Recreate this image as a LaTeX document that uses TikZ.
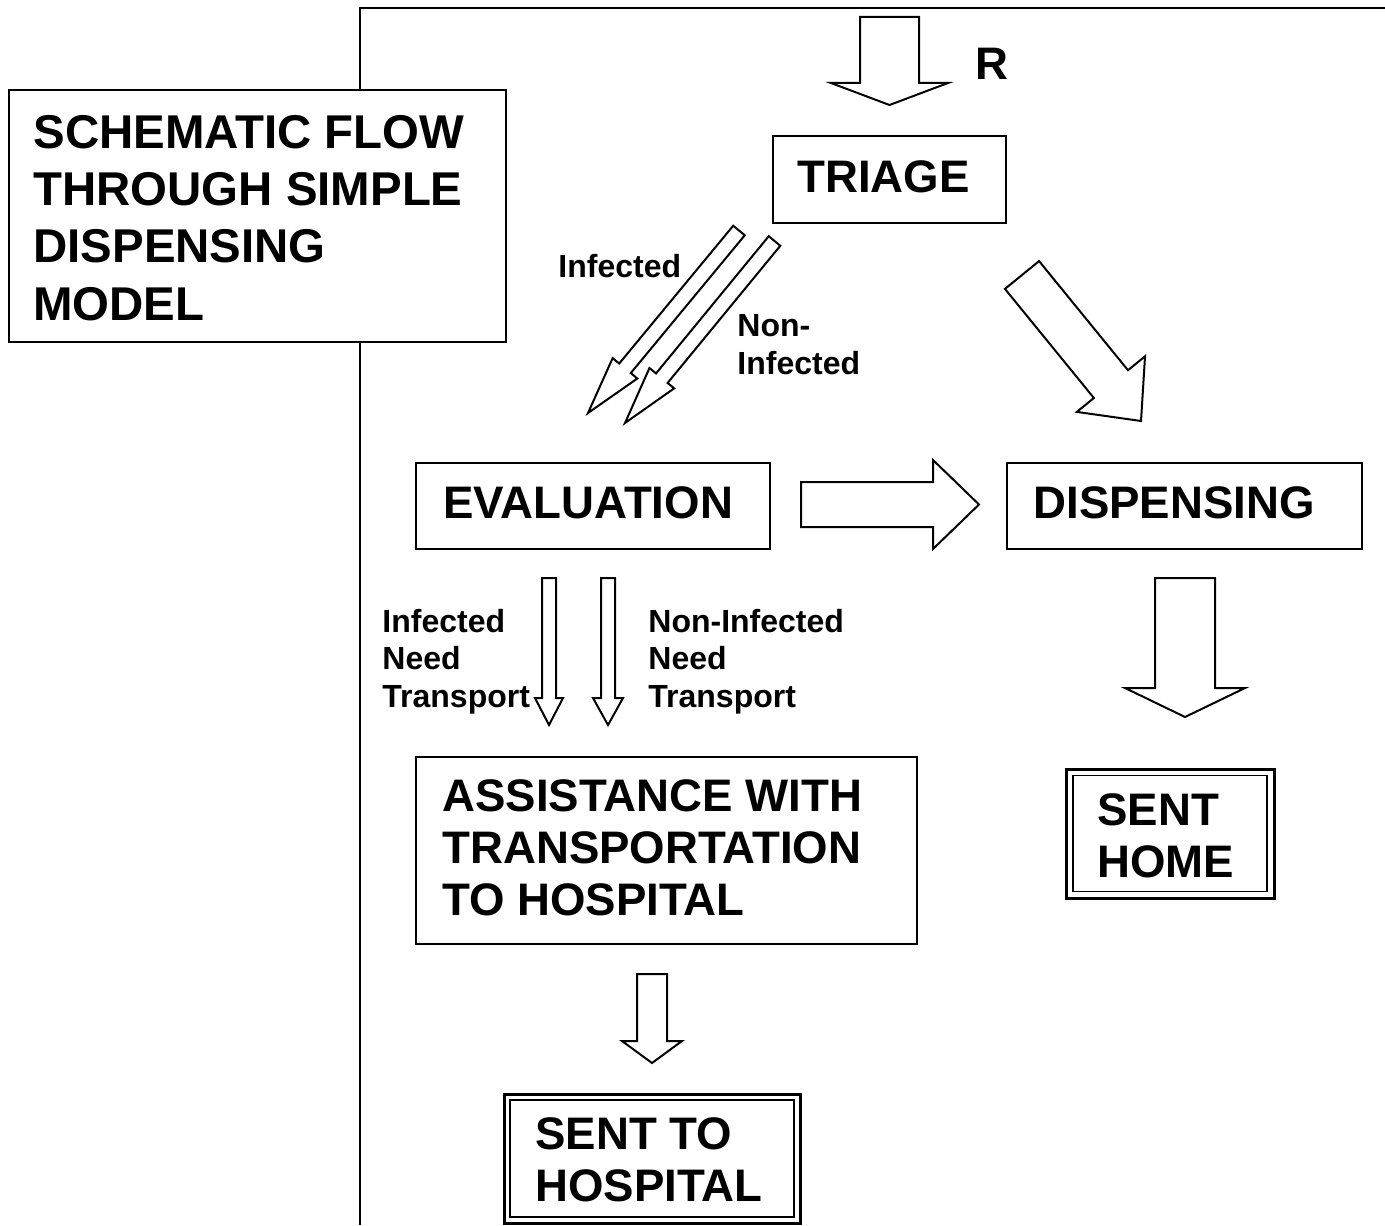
\documentclass[tikz,border=0pt]{standalone}
\usepackage{fontspec}
\setmainfont{Liberation Sans}
\usetikzlibrary{calc}
\tikzset{
  frameline/.style={line width=1pt},
  box/.style={draw, line width=1pt, fill=white, inner sep=0pt, anchor=north west},
  outerbox/.style={draw, line width=1.5pt, fill=white, inner sep=0pt, anchor=north west},
  innerbox/.style={draw, line width=0.9pt, inner sep=0pt, anchor=north west},
  titletxt/.style={font=\fontsize{23.7}{28.65}\selectfont\bfseries, inner sep=0pt, anchor=base west, align=left},
  bigtxt/.style={font=\fontsize{22.8}{26}\selectfont\bfseries, inner sep=0pt, anchor=base west, align=left},
  smalltxt/.style={font=\fontsize{16}{18.7}\selectfont\bfseries, inner sep=0pt, anchor=base west, align=left},
  blk/.style={draw, line width=1pt, fill=white, line join=miter},
}
% #1 tail, #2 tip, #3 shaft half width, #4 head half width, #5 head length, #6 name of head base
\newcommand{\blockarr}[6]{%
  \coordinate (#6) at ($(#2)!#5!(#1)$);
  \draw[blk] ($(#1)!#3!90:(#2)$) -- ($(#6)!#3!90:(#2)$) -- ($(#6)!#4!90:(#2)$) -- (#2)
    -- ($(#6)!#4!-90:(#2)$) -- ($(#6)!#3!-90:(#2)$) -- ($(#1)!#3!-90:(#2)$) -- cycle;
}
\begin{document}
\begin{tikzpicture}[x=0.5pt, y=-0.5pt]
\useasboundingbox (0,0) rectangle (1385,1225);
% frame
\draw[frameline] (360,1225) -- (360,8) -- (1385,8);
% title
\node[box, minimum width=248.5pt, minimum height=126pt] (titlebox) at (8,89) {};
\node[titletxt] (title) at (33,320) {SCHEMATIC FLOW\\THROUGH SIMPLE\\DISPENSING\\MODEL};
% boxes
\node[box, minimum width=116.5pt, minimum height=43.5pt] (triage) at (772,135) {};
\node[bigtxt] (triaget) at (797,193) {TRIAGE};
\node[box, minimum width=177pt, minimum height=43pt] (eval) at (415,462) {};
\node[bigtxt] (evalt) at (443,518) {EVALUATION};
\node[box, minimum width=177.5pt, minimum height=43pt] (disp) at (1006,462) {};
\node[bigtxt] (dispt) at (1033,518) {DISPENSING};
\node[box, minimum width=250.5pt, minimum height=93.5pt] (assist) at (415,756) {};
\node[bigtxt] (assistt) at (442,915) {ASSISTANCE WITH\\TRANSPORTATION\\TO HOSPITAL};
\node[outerbox, minimum width=104pt, minimum height=64.5pt] (home) at (1065,768) {};
\node[innerbox, minimum width=97pt, minimum height=58pt] (homein) at (1072,774.5) {};
\node[bigtxt] (homet) at (1097,877) {SENT\\HOME};
\node[outerbox, minimum width=148pt, minimum height=64.5pt] (hosp) at (503,1093) {};
\node[innerbox, minimum width=142pt, minimum height=58.5pt] (hospin) at (509,1099) {};
\node[bigtxt] (hospt) at (535,1201) {SENT TO\\HOSPITAL};
% labels
\node[bigtxt] (rlab) at (975,80) {R};
\node[smalltxt] (inf1) at (558,277) {Infected};
\node[smalltxt] (ninf1) at (737,374) {Non-\\Infected};
\node[smalltxt] (inf2) at (382,707) {Infected\\Need\\Transport};
\node[smalltxt] (ninf2) at (648,707) {Non-Infected\\Need\\Transport};
% arrow coordinates
\coordinate (rT) at (889.5,17);   \coordinate (rH) at (889.5,105);
\coordinate (aT) at (739,230.5);  \coordinate (aH) at (588,413);
\coordinate (bT) at (774.5,241);  \coordinate (bH) at (625,423);
\coordinate (cT) at (1022,275);   \coordinate (cH) at (1141,421);
\coordinate (edT) at (801,504.5); \coordinate (edH) at (979,504.5);
\coordinate (dhT) at (1185,578);  \coordinate (dhH) at (1185,717);
\coordinate (ahT) at (652,974);   \coordinate (ahH) at (652,1063);
\coordinate (e1T) at (549,578);   \coordinate (e1H) at (549,725);
\coordinate (e2T) at (608,578);   \coordinate (e2H) at (608,725);
% arrows
\blockarr{rT}{rH}{14.75pt}{29.25pt}{11pt}{rS}
\blockarr{aT}{aH}{3.75pt}{8pt}{29pt}{aS}
\blockarr{bT}{bH}{3.75pt}{8pt}{29pt}{bS}
\blockarr{cT}{cH}{11pt}{22pt}{23.8pt}{cS}
\blockarr{edT}{edH}{11.25pt}{22.25pt}{23pt}{edS}
\blockarr{dhT}{dhH}{15pt}{30pt}{14.5pt}{dhS}
\blockarr{ahT}{ahH}{7.5pt}{15pt}{11pt}{ahS}
\blockarr{e1T}{e1H}{3.5pt}{7pt}{13.5pt}{e1S}
\blockarr{e2T}{e2H}{3.5pt}{7.5pt}{13.5pt}{e2S}
\end{tikzpicture}
\end{document}
